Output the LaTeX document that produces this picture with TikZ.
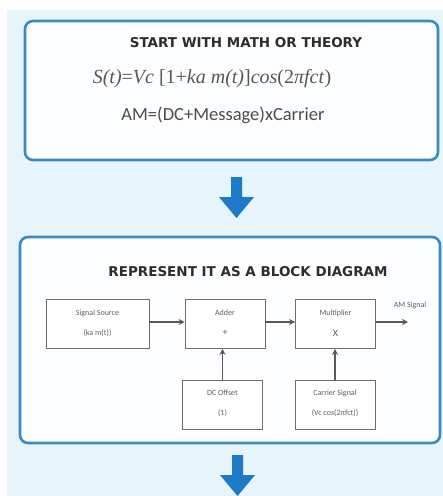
\documentclass[tikz,border=0pt]{standalone}
\usepackage{fontspec}
\setmainfont{Liberation Sans}
\newfontfamily\titlefont{DejaVu Sans}
\newfontfamily\eqfont{Liberation Serif}
\newfontfamily\calfont{Carlito}
\usetikzlibrary{arrows.meta}
\definecolor{pagebg}{RGB}{230,244,251}
\definecolor{panelline}{RGB}{58,137,195}
\definecolor{panelfill}{RGB}{252,253,254}
\definecolor{bigarrow}{RGB}{30,122,200}
\definecolor{titlegray}{RGB}{45,45,45}
\definecolor{blockline}{RGB}{110,110,110}
\definecolor{blocktext}{RGB}{95,95,95}
\tikzset{
  panel/.style={draw=panelline, line width=2.6pt, fill=panelfill, rounded corners=8pt},
  paneltitle/.style={font=\titlefont\bfseries\fontsize{13.5}{15}\selectfont, text=titlegray},
  blockbox/.style={draw=blockline, line width=0.9pt, fill=white, minimum width=80pt, minimum height=49pt, inner sep=0pt},
  blocklabel/.style={font=\calfont\fontsize{8}{9}\selectfont, text=blocktext, align=center},
  link/.style={draw=blockline!80!black, line width=1.2pt, -{Stealth[length=6pt,width=6pt]}},
  downarrow/.style={fill=bigarrow, draw=none}
}
\begin{document}
\begin{tikzpicture}[x=1pt,y=-1pt]
\useasboundingbox (0,0) rectangle (443,496);
\fill[white] (0,0) rectangle (443,496);
\fill[pagebg] (7,10) rectangle (443,496);

% first panel: the formula
\path[panel] (25,21) rectangle (438,160);
\node[paneltitle] (t1) at (246,43) {START WITH MATH OR THEORY};
\node[font=\eqfont\fontsize{20}{23}\selectfont, text=titlegray!80] (eq) at (212,79)
  {\textit{S(t)}=\textit{Vc} [1+\textit{ka m(t)}]\textit{cos}(2\textit{πfct})};
\node[font=\calfont\fontsize{18.5}{21}\selectfont, text=titlegray!85] (am) at (223,115) {AM=(DC+Message)xCarrier};

% arrow between the panels
\fill[downarrow] (231,177) -- (242,177) -- (242,197) -- (254,197) -- (236.5,218)
  -- (219,197) -- (231,197) -- cycle;

% second panel: the block diagram
\path[panel] (20,237) rectangle (440,443);
\node[paneltitle] (t2) at (248,272) {REPRESENT IT AS A BLOCK DIAGRAM};

\node[blockbox, minimum width=103pt] (src) at (97.5,324) {};
\node[blocklabel] at (97.5,313) {Signal Source};
\node[blocklabel] at (97.5,333) {(ka m(t))};

\node[blockbox] (add) at (225,324) {};
\node[blocklabel] at (225,313) {Adder};
\node[blocklabel, font=\calfont\fontsize{10}{11}\selectfont] at (225,333) {+};

\node[blockbox] (mul) at (335.5,324) {};
\node[blocklabel] at (335.5,313) {Multiplier};
\node[blocklabel, font=\calfont\fontsize{10}{11}\selectfont] at (335.5,333) {X};

\node[blockbox] (dc) at (222.5,404.5) {};
\node[blocklabel] at (222.5,393) {DC Offset};
\node[blocklabel] at (222.5,413) {(1)};

\node[blockbox] (car) at (335,404.5) {};
\node[blocklabel] at (335,393) {Carrier Signal};
\node[blocklabel] at (335,413) {(Vc cos(2πfct))};

\coordinate (out) at (408,322);
\node[blocklabel] (amlbl) at (410,305) {AM Signal};

\path[link] (src.east |- 0,322) -- (add.west |- 0,322);
\path[link] (add.east |- 0,322) -- (mul.west |- 0,322);
\path[link] (mul.east |- 0,322) -- (out);
\path[link] (dc.north) -- (dc.north |- add.south);
\path[link] (car.north) -- (car.north |- mul.south);

% arrow below the second panel
\fill[downarrow] (232,455) -- (243,455) -- (243,475) -- (255,475) -- (237.5,496)
  -- (220,475) -- (232,475) -- cycle;
\end{tikzpicture}
\end{document}
